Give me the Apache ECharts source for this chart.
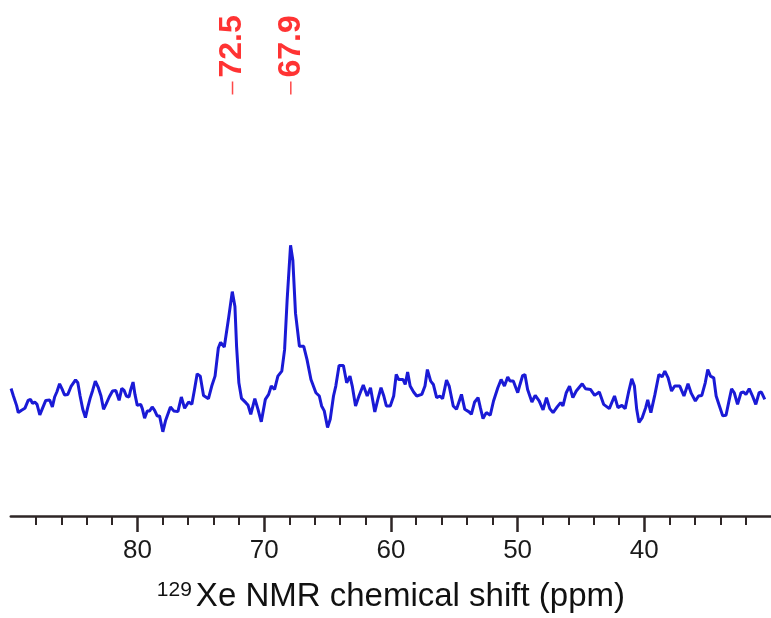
<!DOCTYPE html>
<html>
<head>
<meta charset="utf-8">
<script src="https://cdn.jsdelivr.net/npm/echarts@6/dist/echarts.min.js"></script>
<style>
  html, body { margin: 0; padding: 0; background: #fff; }
  #chart { width: 771px; height: 618px; }
</style>
</head>
<body>
<div id="chart"></div>
<script>
// 129Xe NMR spectrum, chemical shift (ppm) vs intensity (a.u.)
var shift = [
  89.98, 89.80, 89.54, 89.41, 89.15, 88.89, 88.63, 88.44, 88.29, 88.11, 87.93, 87.71, 87.50, 87.24, 86.93,
  86.72, 86.54, 86.36, 86.15, 85.94, 85.76, 85.50, 85.23, 84.89, 84.71, 84.53, 84.32, 84.11, 83.93, 83.74,
  83.54, 83.33, 83.09, 82.88, 82.68, 82.49, 82.23, 81.97, 81.71, 81.45, 81.24, 81.06, 80.88, 80.67, 80.53,
  80.35, 80.20, 80.02, 79.75, 79.62, 79.44, 79.23, 79.04, 78.84, 78.65, 78.45,
  78.26, 78.00, 77.79, 77.40, 77.14, 76.81, 76.54, 76.28, 75.97, 75.71, 75.50, 75.29, 75.05, 74.79, 74.40,
  74.14, 73.88, 73.62, 73.44, 73.15, 72.83, 72.52, 72.31, 72.18, 72.00, 71.79, 71.45, 71.27, 71.06, 70.74,
  70.49, 70.23, 69.91, 69.65, 69.44, 69.18, 68.92, 68.61, 68.39, 68.19, 67.92, 67.74, 67.53, 67.22, 66.88,
  66.62, 66.31, 65.92,
  65.65, 65.47, 65.26, 65.00, 64.79, 64.53, 64.35, 64.09, 63.75, 63.49, 63.23, 63.05, 62.79, 62.52, 62.18,
  61.87, 61.61, 61.27, 61.03, 60.78, 60.56, 60.36, 60.05, 59.78, 59.58, 59.39, 59.05, 58.87, 58.68, 58.48,
  58.21, 57.96, 57.56, 57.31, 57.12, 56.86, 56.65, 56.39, 56.13, 55.92, 55.61, 55.40, 55.08, 54.82,
  54.43, 54.17, 53.83, 53.65, 53.39, 53.12, 52.94, 52.73, 52.47, 52.16, 51.90, 51.56, 51.30, 51.04, 50.78,
  50.60, 50.34, 49.99, 49.81, 49.60, 49.42, 49.21, 48.87, 48.61, 48.30, 47.99, 47.72, 47.46, 47.20, 46.86,
  46.60, 46.42, 46.16, 45.90, 45.64, 45.37, 44.90, 44.64, 44.25, 43.92, 43.55, 43.21, 42.76, 42.35,
  42.08, 41.77, 41.51, 41.25, 40.99, 40.78, 40.60, 40.42, 40.16, 39.89, 39.73, 39.48, 39.16, 38.85, 38.59,
  38.38, 38.12, 37.85, 37.60, 37.20, 36.87, 36.55, 36.29, 35.97, 35.72, 35.46, 35.19, 34.99, 34.78, 34.52,
  34.33, 34.07, 33.81, 33.55, 33.29, 33.11, 32.90, 32.64, 32.37, 32.17, 31.98, 31.72, 31.46, 31.20, 30.94,
  30.76, 30.49
];
var intensity = [
  9.3, 2, -8, -15, -12.7, -10.7, -2.7, -1.7, -5.7, -4.3, -6.7, -17.3, -10.7, -2.7, -2.3,
  -9.3, 0.7, 6, 14, 8.3, 2.7, 3.3, 11.7, 18, 15, 1.7, -11.7, -20, -10, -0.7,
  7.3, 16.7, 10, 1.7, -11.7, -6.7, 0.7, 6.7, 7.3, -2.7, 9.3, 7.3, 1.7, 0.7, 8.3,
  15.7, 3.3, -7.7, -6.7, -11, -20.7, -13.3, -13.3, -9.3, -12.7, -18.3,
  -18.3, -34.3, -23.3, -9.3, -13.3, -14, 0.7, -10.7, -4.3, -6.7, 8.3, 24, 21.7, 2.3, -1,
  11.7, 21.7, 50, 55.7, 51, 78.3, 106.7, 91.7, 51.7, 15, -0.7, -5, -7.7, -16.7, -1,
  -11.7, -24.3, -1.7, 3.3, 11.7, 8.3, 21.7, 26.7, 48.3, 98.3, 153.3, 138.3, 85, 51.7, 51.7,
  38.3, 18.3, 5,
  1.7, -8.3, -13.3, -30, -21.7, 1.7, 11.7, 32.3, 32.3, 15, 21.7, 11.7, -8.3, 1.7, 12.7,
  1.7, 10, -14.3, -1.7, 10, 1.7, -8.3, -8.3, 1.7, 23.3, 18.3, 18.3, 13.3, 25.7, 11.7,
  5.7, 1.7, 3.3, 11.7, 28.3, 16.7, 13.3, 0, 1.7, -1, 17.7, 11.7, -8.3, -11.7,
  3.3, -11.7, -14.3, -16.7, -4.3, 0, -10, -21, -15, -17.7, -3.3, 10, 18.3, 11.7, 20.7,
  16.7, 16.7, 5, 13.3, 22.3, 23.3, 8.3, -4.3, 2.3, -3.3, -12.3, 0, -11, -15, -9,
  -5, -8.3, 5, 11.7, 0, 6.7, 14, 9, 8.3, 2.3, 5.7, -6.7, -11, 1.7,
  -10, -7.7, -11, 5, 19, 11.7, -11.7, -25, -20, -10, -2.3, -15, 3.3, 23.3, 21,
  26.7, 20, 6.7, 11.7, 11.7, 1.7, 14, 4.3, -3.3, 1.7, 2.3, 15, 28.3, 21.7, 20,
  1.7, -8.3, -18.3, -17.7, -1.7, 9, 5, -6.7, 5, 5.7, 3.3, 9, 1.7, -6.7, 5,
  5.7, -1.7
];
var peakShift = [72.5, 67.9];
var peakMarkLevel = 311.5;
var tickVals = [40, 50, 60, 70, 80];

var spectrum = shift.map(function (s, i) { return [s, intensity[i]]; });
var peaks = peakShift.map(function (s) { return [s, peakMarkLevel]; });

var axisColor = '#2e2626';

var option = {
    animation: false,
    backgroundColor: '#ffffff',
    grid: {
        left: 10.8,
        width: 766.2,
        top: 0,
        height: 519
    },
    xAxis: {
        type: 'value',
        min: 30,
        max: 90,
        interval: 10,
        inverse: true,
        name: '{sup|129}{main|Xe NMR chemical shift (ppm)}',
        nameLocation: 'middle',
        nameGap: 64,
        nameTextStyle: {
            rich: {
                sup: {
                    fontFamily: 'Liberation Sans',
                    fontSize: 21,
                    color: '#111',
                    verticalAlign: 'top',
                    padding: [0, 4, 0, 0]
                },
                main: {
                    fontFamily: 'Liberation Sans',
                    fontSize: 33,
                    color: '#111'
                }
            }
        },
        axisLine: {
            onZero: false,
            lineStyle: { color: axisColor, width: 2.5 }
        },
        axisTick: {
            show: true,
            customValues: tickVals,
            inside: false,
            length: 16,
            lineStyle: { color: axisColor, width: 2.5 }
        },
        minorTick: {
            show: true,
            splitNumber: 5,
            length: 9,
            lineStyle: { color: axisColor, width: 2 }
        },
        axisLabel: {
            customValues: tickVals,
            margin: 22,
            fontFamily: 'Liberation Sans',
            fontSize: 26,
            color: '#1a1a1a'
        },
        splitLine: { show: false }
    },
    yAxis: {
        type: 'value',
        min: -119,
        max: 400,
        show: false
    },
    series: [
        {
            name: 'spectrum',
            type: 'line',
            data: spectrum,
            showSymbol: false,
            symbol: 'none',
            lineStyle: { color: '#1a1ad6', width: 3 },
            z: 3
        },
        {
            name: 'peaks',
            type: 'scatter',
            data: peaks,
            symbol: 'rect',
            symbolSize: [1.5, 13],
            itemStyle: { color: '#ff1a1a' },
            label: {
                show: true,
                position: 'top',
                distance: 9,
                rotate: 90,
                align: 'left',
                verticalAlign: 'middle',
                offset: [-5, 0],
                formatter: function (p) { return p.value[0].toFixed(1); },
                fontFamily: 'Liberation Sans',
                fontSize: 32,
                fontWeight: 'bold',
                color: '#ff0000'
            }
        }
    ]
};

var myChart = echarts.init(document.getElementById('chart'));
myChart.setOption(option);
</script>
</body>
</html>
